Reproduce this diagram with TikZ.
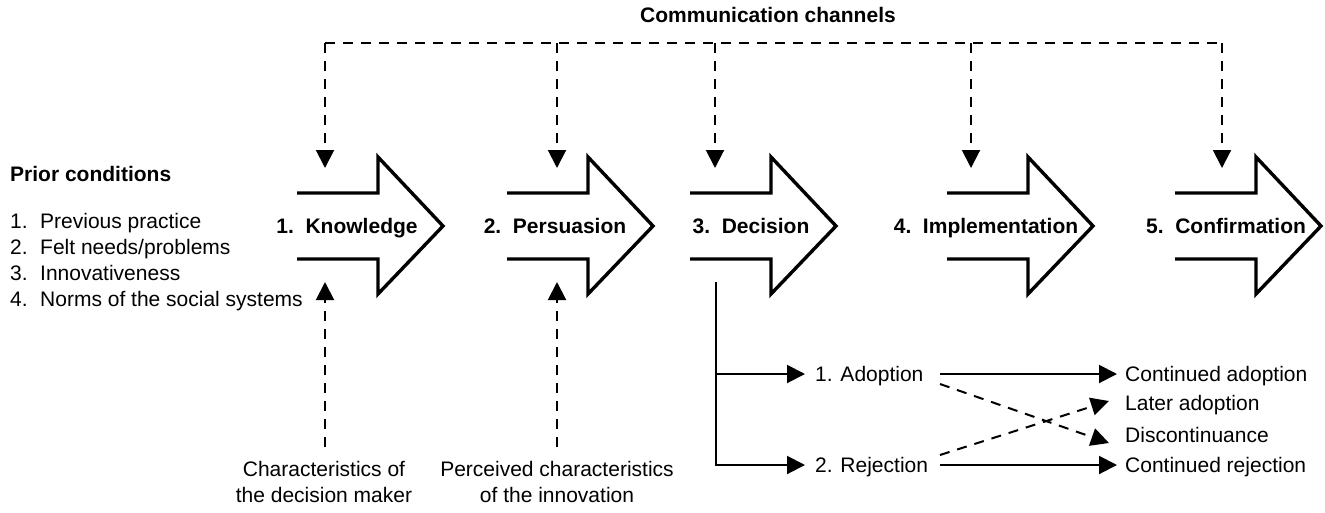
\documentclass[tikz,border=0pt]{standalone}
\usepackage{fontspec}
\setmainfont{Liberation Sans}
\usetikzlibrary{arrows.meta}
\begin{document}
\begin{tikzpicture}[x=1pt,y=-1pt,
  every node/.style={inner sep=0pt, font=\fontsize{21}{26}\selectfont},
  title/.style={font=\fontsize{21}{26}\selectfont\bfseries},
  stage/.style={draw=black, line width=3.4pt, line join=miter, miter limit=10},
  tip/.style={-{Triangle[length=18pt,width=18pt]}},
  chan/.style={tip, line width=2pt, dash pattern=on 10pt off 8pt},
  solidlink/.style={tip, line width=2pt},
  stagearrow/.pic={\draw[stage] (0,-33) -- (81,-33) -- (81,-69) -- (146,0) -- (81,68) -- (81,33) -- (0,33);}
]
\useasboundingbox (0,0) rectangle (1325,512);

% five stages of the process
\pic at (297,226) {stagearrow};
\pic at (507,226) {stagearrow};
\pic at (690,226) {stagearrow};
\pic at (947,226) {stagearrow};
\pic at (1175,226) {stagearrow};

\node[title, anchor=base] (s1) at (347,233.5) {1.\ \ Knowledge};
\node[title, anchor=base] (s2) at (555,233.5) {2.\ \ Persuasion};
\node[title, anchor=base] (s3) at (751,233.5) {3.\ \ Decision};
\node[title, anchor=base] (s4) at (986,233.5) {4.\ \ Implementation};
\node[title, anchor=base] (s5) at (1226,233.5) {5.\ \ Confirmation};

% communication channels feeding every stage
\node[title, anchor=base] (comm) at (768,22.5) {Communication channels};
\coordinate (c1) at (325,43);
\coordinate (c2) at (557,43);
\coordinate (c3) at (715,43);
\coordinate (c4) at (971,43);
\coordinate (c5) at (1222,43);
\coordinate (i1) at (325,168);
\coordinate (i2) at (557,168);
\coordinate (i3) at (715,168);
\coordinate (i4) at (971,168);
\coordinate (i5) at (1222,168);
\draw[line width=2pt, dash pattern=on 10pt off 8pt] (c1) -- (c5);
\foreach \k in {1,...,5} {\draw[chan] (c\k) -- (i\k);}

% prior conditions
\node[title, anchor=base west] (prior) at (10,181.5) {Prior conditions};
\node[anchor=west, align=left] (priorlist) at (10,262) {%
  \makebox[30pt][l]{1.}Previous practice\\
  \makebox[30pt][l]{2.}Felt needs/problems\\
  \makebox[30pt][l]{3.}Innovativeness\\
  \makebox[30pt][l]{4.}Norms of the social systems};

% characteristics acting on knowledge and persuasion
\node[align=center] (maker) at (324,482) {Characteristics of\\the decision maker};
\node[align=center] (innov) at (557,482) {Perceived characteristics\\of the innovation};
\coordinate (u1) at (325,282);
\coordinate (u2) at (557,282);
\draw[chan] (maker.north -| u1) ++(0,-14) -- (u1);
\draw[chan] (innov.north -| u2) ++(0,-14) -- (u2);

% outcomes of the decision
\node[anchor=base west] (adopt) at (815,381.5) {1. Adoption};
\node[anchor=base west] (reject) at (815,472.5) {2. Rejection};
\coordinate (dtop) at (716,282);
\draw[solidlink] (dtop) |- ([xshift=-10pt, yshift=7.5pt]adopt.base west);
\draw[solidlink] (dtop) |- ([xshift=-10pt, yshift=7.5pt]reject.base west);

\node[anchor=base west] (contad) at (1125,381.5) {Continued adoption};
\node[anchor=base west] (later) at (1125,410.5) {Later adoption};
\node[anchor=base west] (discont) at (1125,442.5) {Discontinuance};
\node[anchor=base west] (contrej) at (1125,472.5) {Continued rejection};

\coordinate (xo) at (940,0);
\coordinate (xi) at (1117,0);
\coordinate (xd) at (1109,0);
\draw[solidlink] ([yshift=7.5pt]adopt.base east -| xo) -- ([yshift=7.5pt]contad.base west -| xi);
\draw[solidlink] ([yshift=7.5pt]reject.base east -| xo) -- ([yshift=7.5pt]contrej.base west -| xi);
\draw[chan] ([yshift=-2.5pt]adopt.base east -| xo) -- ([yshift=-0.5pt]discont.base west -| xd);
\draw[chan] ([yshift=17.5pt]reject.base east -| xo) -- ([yshift=9.5pt]later.base west -| xd);
\end{tikzpicture}
\end{document}
